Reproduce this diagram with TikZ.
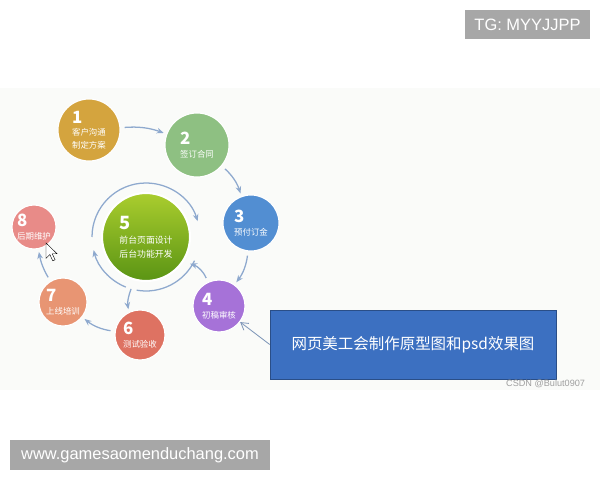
\documentclass[tikz,border=0pt]{standalone}
\usepackage{fontspec}
\setmainfont{Liberation Sans}
\newfontfamily\cjk{Noto Sans CJK SC}
\usetikzlibrary{arrows.meta,calc}
\definecolor{stepone}{HTML}{D4A43E}
\definecolor{steptwo}{HTML}{8EC082}
\definecolor{stepthree}{HTML}{528ED2}
\definecolor{stepfour}{HTML}{A672D8}
\definecolor{stepfivetop}{HTML}{AACD2E}
\definecolor{stepfivebottom}{HTML}{5A9414}
\definecolor{stepsix}{HTML}{DE7262}
\definecolor{stepseven}{HTML}{E89573}
\definecolor{stepeight}{HTML}{E88B88}
\definecolor{flowblue}{HTML}{8EA9CE}
\definecolor{noteblue}{HTML}{3C70C1}
\definecolor{taggray}{HTML}{A7A7A7}
\definecolor{bgtint}{HTML}{FAFBF9}
\begin{document}
\begin{tikzpicture}[
  stage/.style={circle, draw=white, line width=0.8pt, text=white, align=left, inner sep=0pt, font=\cjk\fontsize{6}{9}\selectfont},
  flow/.style={draw=flowblue, line width=0.9pt, -{Stealth[length=5pt,width=4pt]}, shorten <=3pt, shorten >=2pt},
  tag/.style={fill=taggray, text=white, inner sep=0pt, font=\fontsize{11.7}{12}\selectfont}
]
\useasboundingbox (0,0) rectangle (15,12);
\fill[bgtint] (0,2.25) rectangle (15,9.8);

% the eight steps
\node[stage, fill=stepone, minimum size=1.55cm] (c1) at (2.225,8.75) {{\fontsize{12}{12}\selectfont\bfseries 1}\\客户沟通\\制定方案};
\node[stage, fill=steptwo, minimum size=1.6cm] (c2) at (4.925,8.375) {{\fontsize{12}{12}\selectfont\bfseries 2}\\签订合同};
\node[stage, fill=stepthree, minimum size=1.4cm] (c3) at (6.275,6.425) {{\fontsize{12}{12}\selectfont\bfseries 3}\\预付订金};
\node[stage, fill=stepfour, minimum size=1.3cm] (c4) at (5.475,4.35) {{\fontsize{12}{12}\selectfont\bfseries 4}\\初稿审核};
\node[stage, top color=stepfivetop, bottom color=stepfivebottom, draw=white, line width=1.5pt, minimum size=2.2cm, font=\cjk\fontsize{6.3}{10}\selectfont] (c5) at (3.65,6.075) {{\fontsize{13}{13}\selectfont\bfseries 5}\\前台页面设计\\后台功能开发};
\node[stage, fill=stepsix, minimum size=1.25cm] (c6) at (3.5,3.625) {{\fontsize{12}{12}\selectfont\bfseries 6}\\测试验收};
\node[stage, fill=stepseven, minimum size=1.2cm] (c7) at (1.575,4.45) {{\fontsize{12}{12}\selectfont\bfseries 7}\\上线培训};
\node[stage, fill=stepeight, minimum size=1.1cm] (c8) at (0.85,6.325) {{\fontsize{12}{12}\selectfont\bfseries 8}\\后期维护};

% ring round step 5
\draw[flow, shorten <=0pt, shorten >=0pt] ($(c5)+(180:1.35)$) arc[start angle=180, end angle=17, radius=1.35];
\draw[draw=flowblue, line width=0.9pt] ($(c5)+(-26:1.35)$) arc[start angle=-26, end angle=-100, radius=1.35];
\draw[flow, shorten <=0pt, shorten >=0pt] ($(c5)+(-112:1.35)$) arc[start angle=-112, end angle=-166, radius=1.35];
\coordinate (r5a) at ($(c5)+(-32:1.22)$);
\coordinate (r5b) at ($(c5)+(-106:1.35)$);

% flow between steps
\draw[flow] (c1) to[bend left=12] (c2);
\draw[flow] (c2) to[bend left=15] (c3);
\draw[flow] (c3) to[bend left=15] (c4);
\draw[flow] (c4.115) to[bend right=25] (r5a);
\draw[flow, shorten <=0pt] (r5b) to[bend right=15] (c6);
\draw[flow] (c6) to[bend left=15] (c7);
\draw[flow] (c7) to[bend left=10] (c8);

% note box
\node[fill=noteblue, draw=noteblue!70!black, minimum width=7.15cm, minimum height=1.725cm, text=white, font=\cjk\fontsize{11}{13}\selectfont] (note) at (10.325,3.3875) {网页美工会制作原型图和psd效果图};
\draw[draw=flowblue!90!black, line width=0.6pt, -{Straight Barb[length=5pt,width=6pt]}] (note.west) -- (c4);
\node[anchor=east, text=gray!75, font=\fontsize{6.5}{7}\selectfont] (mark) at (14.75,2.4) {CSDN @Bulut0907};

% mouse pointer
\draw[fill=white, line width=0.3pt, shift={(1.15,5.925)}, scale=0.024] (0,0) -- (0,-16) -- (4,-12) -- (7,-18.5) -- (9.5,-17.5) -- (6.5,-11.2) -- (11.5,-11.2) -- cycle;

% tags
\node[tag, minimum width=3.125cm, minimum height=0.725cm] (tg) at (13.1875,11.3875) {TG: MYYJJPP};
\node[tag, minimum width=6.5cm, minimum height=0.75cm] (site) at (3.5,0.625) {www.gamesaomenduchang.com};
\end{tikzpicture}
\end{document}
